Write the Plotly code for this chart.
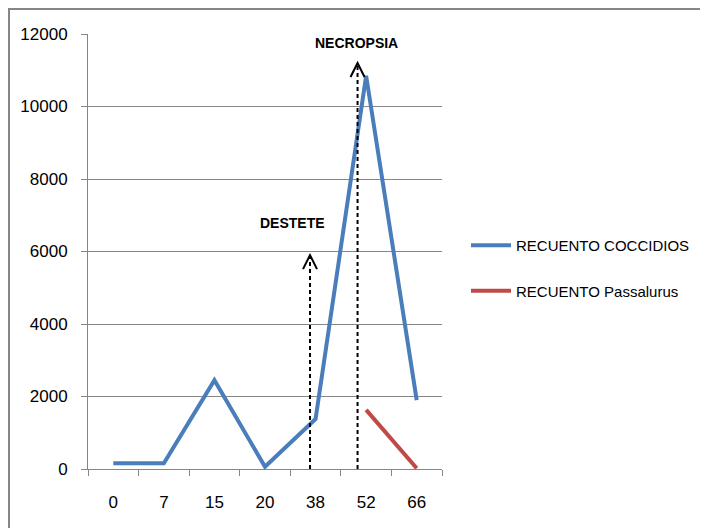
import plotly.graph_objects as go

days = ["0", "7", "15", "20", "38", "52", "66"]
coccidios = [160, 160, 2450, 60, 1380, 10850, 1900]
passalurus = [None, None, None, None, None, 1630, 20]

events = ["DESTETE", "NECROPSIA"]
event_x = [3.89, 4.83]          # category-index positions of the arrows
event_top = [5900, 11200]       # arrow tip values
label_x = [3.55, 4.80]
label_y = [6800, 11750]

FONT = "Liberation Sans Narrow, Liberation Sans, Arial, sans-serif"
W, H = 700, 520
L, R, T, B = 80, 266, 26, 59
pw, ph = W - L - R, H - T - B

fig = go.Figure()
fig.add_trace(go.Scatter(x=days, y=coccidios, mode="lines", name="RECUENTO COCCIDIOS",
                         legendgroup="a", line=dict(color="#4A7EBB", width=4)))
fig.add_trace(go.Scatter(x=days, y=passalurus, mode="lines", name="RECUENTO Passalurus",
                         legendgroup="b", line=dict(color="#BE4B48", width=4)))

shapes = []
for ex, top in zip(event_x, event_top):
    shapes.append(dict(type="line", xref="x", yref="y", x0=ex, x1=ex, y0=0, y1=top,
                       line=dict(color="black", width=2, dash="4px,3px"), layer="above"))
    shapes.append(dict(type="path", xref="x", yref="y", xsizemode="pixel", ysizemode="pixel",
                       xanchor=ex, yanchor=top, path="M -7 -14 L 0 0 L 7 -14",
                       line=dict(color="black", width=2), layer="above"))

def px(x):
    return (x - L) / pw
def py(y):
    return (H - B - y) / ph
shapes.append(dict(type="rect", xref="paper", yref="paper", x0=px(1), x1=px(720), y0=py(540), y1=py(1),
                   line=dict(color="#868686", width=2), fillcolor="rgba(0,0,0,0)", layer="below"))

annotations = [dict(x=lx, y=ly, xref="x", yref="y", text="<b>%s</b>" % t, showarrow=False,
                    font=dict(family=FONT, size=14, color="black"))
               for t, lx, ly in zip(events, label_x, label_y)]

fig.update_layout(
    width=W, height=H, margin=dict(l=L, r=R, t=T, b=B, autoexpand=False),
    paper_bgcolor="white", plot_bgcolor="white",
    font=dict(family=FONT, size=17, color="black"),
    shapes=shapes, annotations=annotations,
    showlegend=True,
    legend=dict(x=px(458), y=py(260), xanchor="left", yanchor="middle",
                font=dict(family=FONT, size=15), tracegroupgap=23, traceorder="grouped",
                itemwidth=40, bgcolor="rgba(0,0,0,0)"),
    xaxis=dict(type="category", range=[-0.5, 6.5], showgrid=False, showline=True,
               linecolor="#868686", linewidth=1,
               ticks="outside", tickson="boundaries", ticklen=6, tickcolor="#868686",
               tickfont=dict(size=17), zeroline=False, ticklabelstandoff=18),
    yaxis=dict(range=[0, 12000], dtick=2000, tickformat="d", showgrid=True, gridcolor="#868686",
               gridwidth=1, showline=True, linecolor="#868686", linewidth=1, ticks="outside",
               ticklen=6, tickcolor="#868686", zeroline=False, tickfont=dict(size=17),
               ticklabelstandoff=10),
)
fig.write_html("out.html")
